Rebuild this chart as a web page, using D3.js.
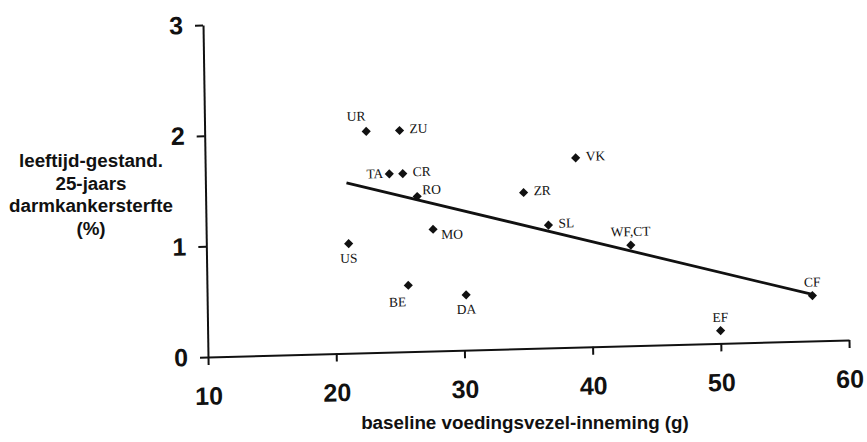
<!DOCTYPE html>
<html>
<head>
<meta charset="utf-8">
<script src="https://cdn.jsdelivr.net/npm/d3@7"></script>
<style>
  html, body { margin: 0; padding: 0; background: #fff; }
  svg { display: block; }
  .axis path, .axis line { stroke: #111; stroke-width: 2; }
  .axis text { font-family: "Liberation Sans", Arial, sans-serif; font-weight: bold; font-size: 25px; fill: #111; }
  .title { font-family: "Liberation Sans", Arial, sans-serif; font-weight: bold; font-size: 18.8px; fill: #111; }
  .lbl { font-family: "Liberation Serif", "Times New Roman", serif; font-size: 13.5px; fill: #111; }
</style>
</head>
<body>
<div id="chart"></div>
<script>
// country codes, fibre intake (g) and age-adjusted 25-year colon cancer mortality (%)
let countries = ["UR", "ZU", "TA", "CR", "RO", "US", "MO", "BE", "DA", "VK", "ZR", "SL", "WF,CT", "CF", "EF"];
let fibre = [22.6, 25.2, 24.35, 25.4, 26.5, 21.1, 27.7, 25.7, 30.2, 38.9, 34.8, 36.7, 43.1, 57.2, 50.0];
let mortality = [2.00, 2.00, 1.61, 1.61, 1.40, 0.99, 1.10, 0.60, 0.50, 1.71, 1.41, 1.11, 0.91, 0.41, 0.115];
let labelSide = ["aboveLeft", "right", "left", "right", "rightUp", "below", "rightDown", "belowLeft", "below",
                 "right", "right", "right", "above", "above", "above"];
// regression line end points
let fitX = [21.0, 57.2];
let fitY = [1.54, 0.42];
let xTicks = [10, 20, 30, 40, 50, 60];
let yTicks = [0, 1, 2, 3];
let yTitle = ["leeftijd-gestand.", "25-jaars", "darmkankersterfte", "(%)"];
let xTitle = "baseline voedingsvezel-inneming (g)";

let width = 867, height = 442;
let origin = { x: 208, y: 357 };

let svg = d3.select("#chart").append("svg")
    .attr("width", width)
    .attr("height", height);

let x = d3.scaleLinear().domain([10, 60]).range([origin.x, 849]);
let y = d3.scaleLinear().domain([0, 3]).range([origin.y, 25]);

// the scanned figure is slightly tilted
let plot = svg.append("g")
    .attr("transform", "translate(" + origin.x + "," + origin.y + ") matrix(1,-0.0265,0.015,1,0,0) translate(" + (-origin.x) + "," + (-origin.y) + ")");

plot.append("g")
    .attr("class", "axis")
    .attr("transform", "translate(0," + origin.y + ")")
    .call(d3.axisBottom(x).tickValues(xTicks).tickSize(8).tickSizeOuter(0).tickPadding(22).tickFormat(d3.format("d")));

plot.append("g")
    .attr("class", "axis")
    .attr("transform", "translate(" + origin.x + ",0)")
    .call(d3.axisLeft(y).tickValues(yTicks).tickSize(8).tickSizeOuter(0).tickPadding(12).tickFormat(d3.format("d")));

let line = d3.line().x(d => x(d[0])).y(d => y(d[1]));
plot.append("path")
    .datum(d3.zip(fitX, fitY))
    .attr("d", line)
    .attr("fill", "none")
    .attr("stroke", "#111")
    .attr("stroke-width", 2.8);

let points = countries.map((c, i) => ({ name: c, fx: fibre[i], my: mortality[i], side: labelSide[i] }));
let diamond = d3.symbol().type(d3.symbolSquare).size(42);

plot.selectAll(".pt").data(points)
    .enter()
    .append("path")
    .attr("class", "pt")
    .attr("d", diamond)
    .attr("transform", d => "translate(" + x(d.fx) + "," + y(d.my) + ") rotate(45)")
    .attr("fill", "#111");

let offsets = {
    above:     { dx: 0,   dy: -9,  anchor: "middle" },
    aboveLeft: { dx: -10, dy: -11, anchor: "middle" },
    right:     { dx: 10,  dy: 3,   anchor: "start" },
    rightUp:   { dx: 5,   dy: -2,  anchor: "start" },
    rightDown: { dx: 8,   dy: 10,  anchor: "start" },
    left:      { dx: -6,  dy: 4,   anchor: "end" },
    below:     { dx: 0,   dy: 19,  anchor: "middle" },
    belowLeft: { dx: -11, dy: 21,  anchor: "middle" }
};

plot.selectAll(".lbl").data(points)
    .enter()
    .append("text")
    .attr("class", "lbl")
    .attr("x", d => x(d.fx) + offsets[d.side].dx)
    .attr("y", d => y(d.my) + offsets[d.side].dy)
    .attr("text-anchor", d => offsets[d.side].anchor)
    .text(d => d.name);

svg.append("text")
    .attr("class", "title")
    .attr("x", 525)
    .attr("y", 429)
    .attr("text-anchor", "middle")
    .text(xTitle);

svg.append("text")
    .attr("class", "title")
    .attr("text-anchor", "middle")
    .selectAll("tspan").data(yTitle)
    .enter()
    .append("tspan")
    .attr("x", 91)
    .attr("y", (d, i) => 167 + i * 22.7)
    .text(d => d);
</script>
</body>
</html>
